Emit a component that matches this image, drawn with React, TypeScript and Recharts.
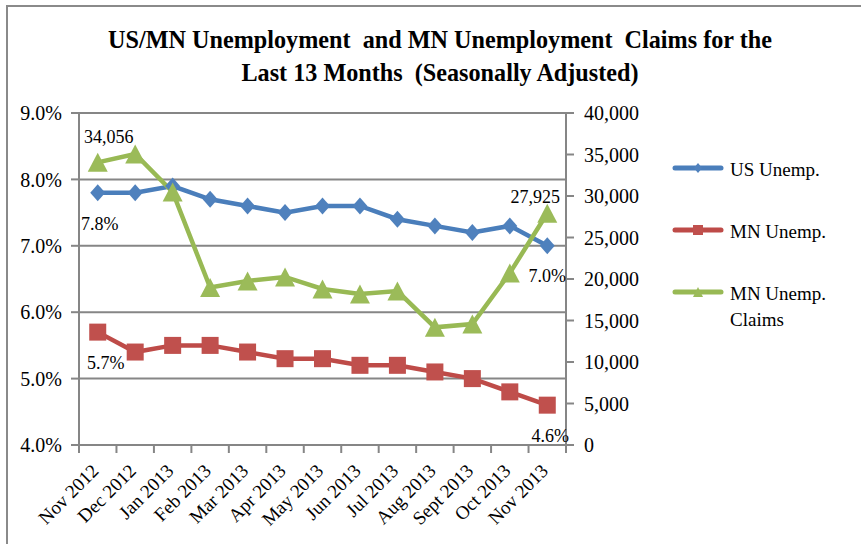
import React from 'react';
import { ComposedChart, Line, XAxis, YAxis, CartesianGrid, LabelList, Legend } from 'recharts';

const months = ['Nov 2012', 'Dec 2012', 'Jan 2013', 'Feb 2013', 'Mar 2013', 'Apr 2013', 'May 2013', 'Jun 2013', 'Jul 2013', 'Aug 2013', 'Sept 2013', 'Oct 2013', 'Nov 2013'];
const usUnemp = [7.8, 7.8, 7.9, 7.7, 7.6, 7.5, 7.6, 7.6, 7.4, 7.3, 7.2, 7.3, 7.0];
const mnUnemp = [5.7, 5.4, 5.5, 5.5, 5.4, 5.3, 5.3, 5.2, 5.2, 5.1, 5.0, 4.8, 4.6];
const mnClaims = [34056, 35060, 30480, 18980, 19760, 20250, 18800, 18190, 18550, 14180, 14580, 20720, 27925];
const leftTicks = [4, 5, 6, 7, 8, 9];
const rightTicks = [0, 5000, 10000, 15000, 20000, 25000, 30000, 35000, 40000];
const seriesNames = ['US Unemp.', 'MN Unemp.', 'MN Unemp. Claims'];
const titleLines = ['US/MN Unemployment  and MN Unemployment  Claims for the', 'Last 13 Months  (Seasonally Adjusted)'];

const data = months.map((m, i) => ({ month: m, us: usUnemp[i], mn: mnUnemp[i], claims: mnClaims[i] }));

const FONT = '"Liberation Serif", "Times New Roman", serif';
const BLUE = '#4A7EBB', BLUE_M = '#4F81BD';
const RED = '#BE4B48', RED_M = '#C0504D';
const GREEN = '#98B954', GREEN_M = '#9BBB59';
const AXIS = '#868686';

const PLOT_LEFT = 79, PLOT_RIGHT = 566;
const BAND = (PLOT_RIGHT - PLOT_LEFT) / months.length;

const Diamond = ({ cx, cy, fill, w = 7.5, h = 8.5 }: any) => (
  <path d={`M${cx},${cy - h} L${cx + w},${cy} L${cx},${cy + h} L${cx - w},${cy} Z`} fill={fill} />
);
const Square = ({ cx, cy, fill, s = 8.5 }: any) => (
  <rect x={cx - s} y={cy - s} width={2 * s} height={2 * s} fill={fill} />
);
const Triangle = ({ cx, cy, fill, w = 10, h = 9.5 }: any) => (
  <path d={`M${cx},${cy - h} L${cx + w},${cy + h} L${cx - w},${cy + h} Z`} fill={fill} />
);

const fmtPct = (v: number) => `${v.toFixed(1)}%`;
const fmtNum = (v: number) => v.toLocaleString('en-US');

const makeLabel = (spec: Record<number, [number, number]>, fmt: (v: number) => string) => (props: any) => {
  const { x, y, value, index } = props;
  const s = spec[index];
  if (!s) return null;
  return (
    <text key={`l${index}`} x={x + s[0]} y={y + s[1]} dy="0.35em" textAnchor="middle" fontFamily={FONT} fontSize={18} fill="#000">
      {fmt(value)}
    </text>
  );
};

const XTick = (props: any) => {
  const { x, y, payload, index } = props;
  const left = x - BAND / 2;
  const ax = x + 2, ay = y + 27;
  return (
    <g>
      <line x1={left} y1={y} x2={left} y2={y + 8} stroke={AXIS} strokeWidth={2} />
      {index === months.length - 1 && <line x1={x + BAND / 2} y1={y} x2={x + BAND / 2} y2={y + 8} stroke={AXIS} strokeWidth={2} />}
      <text x={ax} y={ay} textAnchor="end" transform={`rotate(-45 ${ax} ${ay})`} fontFamily={FONT} fontSize={19} fill="#000">
        {payload.value}
      </text>
    </g>
  );
};

const legendColors = [[BLUE, BLUE_M], [RED, RED_M], [GREEN, GREEN_M]];

const LegendContent = () => (
  <div style={{ fontFamily: FONT, fontSize: 19, color: '#000', width: 180 }}>
    {seriesNames.map((n, i) => (
      <div key={n} style={{ display: 'flex', alignItems: 'flex-start', height: 62 }}>
        <svg width={58} height={20} style={{ flex: 'none', marginTop: 2 }}>
          <line x1={3} y1={10} x2={49} y2={10} stroke={legendColors[i][0]} strokeWidth={5} strokeLinecap="round" />
          {i === 0 && <Diamond cx={26} cy={10} fill={legendColors[i][1]} w={4} h={5} />}
          {i === 1 && <Square cx={26} cy={10} fill={legendColors[i][1]} s={5} />}
          {i === 2 && <Triangle cx={26} cy={10} fill={legendColors[i][1]} w={5} h={5} />}
        </svg>
        <div style={{ lineHeight: '26px', marginTop: 1, width: 110 }}>
          {n === 'MN Unemp. Claims' ? (<>MN Unemp.<br />Claims</>) : n}
        </div>
      </div>
    ))}
  </div>
);

export default function App() {
  return (
    <div style={{ position: 'absolute', left: 0, top: 0, width: 861, height: 544, overflow: 'hidden', background: '#fff' }}>
      <div style={{ position: 'absolute', left: 6, top: 5, width: 1000, height: 1000, border: '2px solid #8a8a8a' }} />
      <div style={{ position: 'absolute', left: 0, top: 23, width: 880, textAlign: 'center', fontFamily: FONT, fontWeight: 'bold', fontSize: 26, lineHeight: '33px', color: '#000', whiteSpace: 'pre', transform: 'scaleX(0.93)', transformOrigin: '440px 0' }}>
        {titleLines[0]}
        <br />
        {titleLines[1]}
      </div>
      <div style={{ position: 'absolute', left: 0, top: 0 }}>
        <ComposedChart width={861} height={544} data={data} margin={{ top: 113, right: 215, bottom: 9, left: 9 }}>
          <CartesianGrid yAxisId="left" vertical={false} stroke={AXIS} strokeWidth={2} />
          <XAxis dataKey="month" scale="band" interval={0} height={90} tick={<XTick />} tickLine={false} tickSize={0} tickMargin={0} axisLine={{ stroke: AXIS, strokeWidth: 2 }} />
          <YAxis yAxisId="left" orientation="left" width={70} domain={[4, 9]} ticks={leftTicks} tickFormatter={fmtPct}
            axisLine={{ stroke: AXIS, strokeWidth: 2 }} tickLine={{ stroke: AXIS, strokeWidth: 2 }} tickSize={8} tickMargin={9}
            tick={{ fontFamily: FONT, fontSize: 20, fill: '#000' }} allowDataOverflow />
          <YAxis yAxisId="right" orientation="right" width={80} domain={[0, 40000]} ticks={rightTicks} tickFormatter={fmtNum}
            axisLine={{ stroke: AXIS, strokeWidth: 2 }} tickLine={{ stroke: AXIS, strokeWidth: 2 }} tickSize={8} tickMargin={10}
            tick={{ fontFamily: FONT, fontSize: 20, fill: '#000', textAnchor: 'start' }} allowDataOverflow />
          <Legend layout="vertical" align="center" verticalAlign="middle" content={<LegendContent />}
            wrapperStyle={{ left: 672, top: 156, width: 190 }} />
          <Line yAxisId="left" dataKey="us" name={seriesNames[0]} stroke={BLUE} strokeWidth={4.5} isAnimationActive={false}
            dot={(p: any) => <Diamond key={`d${p.index}`} cx={p.cx} cy={p.cy} fill={BLUE_M} />} activeDot={false}>
            <LabelList dataKey="us" content={makeLabel({ 0: [2, 31], 12: [0, 30] }, fmtPct)} />
          </Line>
          <Line yAxisId="left" dataKey="mn" name={seriesNames[1]} stroke={RED} strokeWidth={4.5} isAnimationActive={false}
            dot={(p: any) => <Square key={`s${p.index}`} cx={p.cx} cy={p.cy} fill={RED_M} />} activeDot={false}>
            <LabelList dataKey="mn" content={makeLabel({ 0: [8, 31], 12: [3, 31] }, fmtPct)} />
          </Line>
          <Line yAxisId="right" dataKey="claims" name={seriesNames[2]} stroke={GREEN} strokeWidth={4.5} isAnimationActive={false}
            dot={(p: any) => <Triangle key={`t${p.index}`} cx={p.cx} cy={p.cy} fill={GREEN_M} />} activeDot={false}>
            <LabelList dataKey="claims" content={makeLabel({ 0: [11, -26], 12: [-12, -17] }, fmtNum)} />
          </Line>
        </ComposedChart>
      </div>
    </div>
  );
}
